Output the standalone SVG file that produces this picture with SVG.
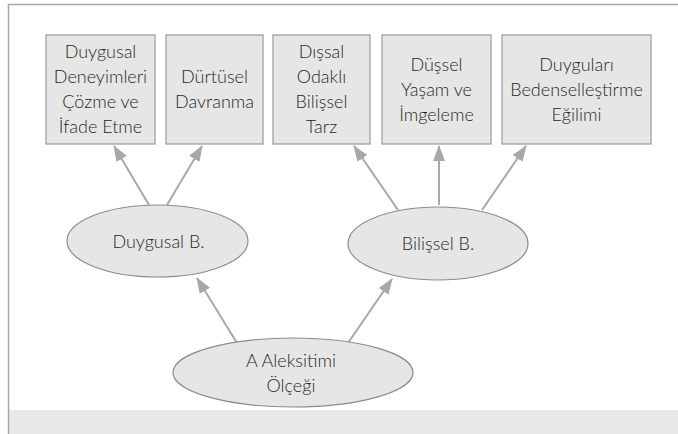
<svg xmlns="http://www.w3.org/2000/svg" width="678" height="434" viewBox="0 0 678 434">
<defs>
<style>
.frame{fill:none;stroke:#a6a6a6;stroke-width:1.5}
.box{fill:#e6e6e7;stroke:#9a9a9a;stroke-width:1.2}
.ell{fill:#e6e6e7;stroke:#8c8c8c;stroke-width:1.2}
.t{font-family:Lato,"Open Sans","DejaVu Sans",sans-serif;font-size:18px;font-weight:300;fill:#262626;text-anchor:middle}
.c{stroke:#a8a8a8;stroke-width:2;fill:none;marker-end:url(#ah)}
</style>
<marker id="ah" viewBox="0 0 16 12" refX="15" refY="6" markerWidth="16" markerHeight="12" markerUnits="userSpaceOnUse" orient="auto">
<path d="M0,0 L16,6 L0,12 Z" fill="#a8a8a8"/>
</marker>
</defs>
<rect x="0" y="0" width="678" height="434" fill="#fff"/>
<rect x="9" y="410" width="669" height="24" fill="#e8e8ea"/>
<path class="frame" d="M678,4.5 H8.5 V434"/>
<g id="connectors">
<line class="c" x1="149" y1="205" x2="114" y2="146"/>
<line class="c" x1="167" y1="205" x2="202" y2="146"/>
<line class="c" x1="398" y1="210" x2="354" y2="146"/>
<line class="c" x1="439" y1="205" x2="439" y2="146"/>
<line class="c" x1="482" y1="210" x2="526" y2="146"/>
<line class="c" x1="237" y1="343" x2="197" y2="278"/>
<line class="c" x1="348" y1="343" x2="392" y2="279"/>
</g>
<g id="n1">
<rect class="box" x="46" y="35" width="109" height="109"/>
<text class="t" x="100.5" y="58">Duygusal</text>
<text class="t" x="100.5" y="83">Deneyimleri</text>
<text class="t" x="100.5" y="108">Çözme ve</text>
<text class="t" x="100.5" y="133">İfade Etme</text>
</g>
<g id="n2">
<rect class="box" x="166" y="35" width="97" height="109"/>
<text class="t" x="214.5" y="83">Dürtüsel</text>
<text class="t" x="214.5" y="108">Davranma</text>
</g>
<g id="n3">
<rect class="box" x="273" y="35" width="97" height="109"/>
<text class="t" x="321.5" y="58">Dışsal</text>
<text class="t" x="321.5" y="83">Odaklı</text>
<text class="t" x="321.5" y="108">Bilişsel</text>
<text class="t" x="321.5" y="133">Tarz</text>
</g>
<g id="n4">
<rect class="box" x="382" y="35" width="109" height="109"/>
<text class="t" x="436.5" y="71">Düşsel</text>
<text class="t" x="436.5" y="96">Yaşam ve</text>
<text class="t" x="436.5" y="121">İmgeleme</text>
</g>
<g id="n5">
<rect class="box" x="502" y="35" width="149" height="109"/>
<text class="t" x="576.5" y="71">Duyguları</text>
<text class="t" x="576.5" y="96">Bedenselleştirme</text>
<text class="t" x="576.5" y="121">Eğilimi</text>
</g>
<g id="duygusal">
<ellipse class="ell" cx="157.5" cy="241" rx="90.5" ry="36"/>
<text class="t" x="158.5" y="248">Duygusal B.</text>
</g>
<g id="bilissel">
<ellipse class="ell" cx="438" cy="243.5" rx="90" ry="36.5"/>
<text class="t" x="438" y="250">Bilişsel B.</text>
</g>
<g id="aleksitimi">
<ellipse class="ell" cx="293" cy="372.5" rx="120" ry="34.5"/>
<text class="t" x="291" y="367">A Aleksitimi</text>
<text class="t" x="291" y="392">Ölçeği</text>
</g>
</svg>
